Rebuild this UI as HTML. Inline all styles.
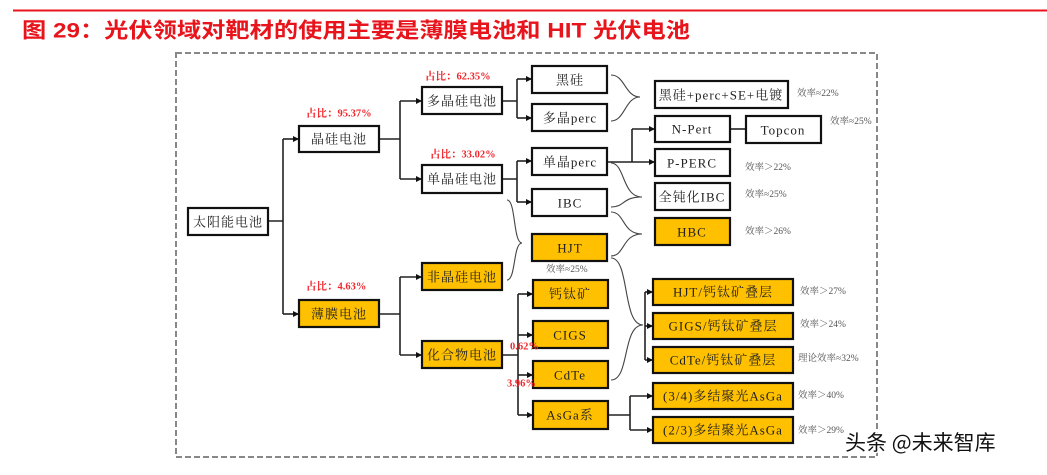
<!DOCTYPE html>
<html><head><meta charset="utf-8"><style>
html,body{margin:0;padding:0;background:#fff;width:1047px;height:475px;overflow:hidden}
svg{display:block}
.t{font-family:"Liberation Serif","Noto Serif CJK SC",serif;font-size:13px;fill:#222;text-anchor:middle;dominant-baseline:central;letter-spacing:1px}
.s{font-family:"Liberation Serif","Noto Serif CJK SC",serif;font-size:9.5px;fill:#555;dominant-baseline:central}
.r{font-family:"Liberation Serif","Noto Serif CJK SC",serif;font-size:10.5px;fill:#f0282d;font-weight:bold;dominant-baseline:central}
.w{fill:#fff;stroke:#111;stroke-width:2.2}
.y{fill:#FFC000;stroke:#111;stroke-width:2.2}
.l{fill:none;stroke:#222;stroke-width:1.6}
.b{fill:none;stroke:#444;stroke-width:1.1}
</style></head><body>
<svg width="1047" height="475" viewBox="0 0 1047 475" xmlns="http://www.w3.org/2000/svg">
<defs><marker id="a" markerWidth="6" markerHeight="6" refX="5" refY="3" orient="auto" markerUnits="userSpaceOnUse"><path d="M0,0 L6,3 L0,6z" fill="#111"/></marker></defs>
<line x1="13" y1="10.5" x2="1047" y2="10.5" stroke="#e8141b" stroke-width="2"/>
<text x="22" y="31" font-family="Liberation Sans,'Noto Sans CJK SC',sans-serif" font-size="21" font-weight="bold" fill="#e8141b" dominant-baseline="central" textLength="668" lengthAdjust="spacingAndGlyphs">图 29：光伏领域对靶材的使用主要是薄膜电池和 HIT 光伏电池</text>
<rect x="176" y="53" width="701" height="404" fill="none" stroke="#888" stroke-width="2" stroke-dasharray="6,3"/>

<g class="l">
<path d="M268,221 H283 M283,139 V314"/>
<path d="M283,139 H298" marker-end="url(#a)"/><path d="M283,314 H298" marker-end="url(#a)"/>
<path d="M379,139 H400 M400,101 V179"/>
<path d="M400,101 H421" marker-end="url(#a)"/><path d="M400,179 H421" marker-end="url(#a)"/>
<path d="M502,101 H517 M517,79 V118"/>
<path d="M517,79 H531" marker-end="url(#a)"/><path d="M517,118 H531" marker-end="url(#a)"/>
<path d="M502,179 H517 M517,161 V202"/>
<path d="M517,161 H531" marker-end="url(#a)"/><path d="M517,202 H531" marker-end="url(#a)"/>
<path d="M379,314 H400 M400,277 V355"/>
<path d="M400,277 H421" marker-end="url(#a)"/><path d="M400,355 H421" marker-end="url(#a)"/>
<path d="M502,355 H518 M518,294 V415"/>
<path d="M518,294 H532" marker-end="url(#a)"/><path d="M518,335 H532" marker-end="url(#a)"/>
<path d="M518,375 H532" marker-end="url(#a)"/><path d="M518,415 H532" marker-end="url(#a)"/>
<path d="M607,162 H632 M632,129 V162"/>
<path d="M632,129 H654" marker-end="url(#a)"/><path d="M632,162 H654" marker-end="url(#a)"/>
<path d="M730,129 H746"/>
<path d="M645,292 V360"/>
<path d="M645,292 H652" marker-end="url(#a)"/><path d="M645,326 H652" marker-end="url(#a)"/><path d="M645,360 H652" marker-end="url(#a)"/>
<path d="M608,415 H630 M630,396 V430"/>
<path d="M630,396 H652" marker-end="url(#a)"/><path d="M630,430 H652" marker-end="url(#a)"/>
</g>

<g class="b">
<path d="M611,75 C625,75 625,97 640,97 C625,97 625,121 611,121"/>
<path d="M611,163 C625,163 622,197 642,197 C622,197 625,207 611,207"/>
<path d="M611,212 C625,212 622,234 642,234 C622,234 625,256 611,256"/>
<path d="M507,200 C516,200 513,243 522,243 C513,243 516,280 507,280"/>
<path d="M611,258 C630,258 622,325 643,325 C622,325 630,380 611,380"/>
</g>

<rect class="w" x="188" y="208" width="80" height="27"/><text class="t" x="228" y="222">太阳能电池</text>
<rect class="w" x="299" y="126" width="80" height="26"/><text class="t" x="339" y="139">晶硅电池</text>
<rect class="w" x="422" y="87" width="80" height="27"/><text class="t" x="462" y="101">多晶硅电池</text>
<rect class="w" x="422" y="165" width="80" height="28"/><text class="t" x="462" y="179">单晶硅电池</text>
<rect class="w" x="532" y="66" width="75" height="27"/><text class="t" x="570" y="80">黑硅</text>
<rect class="w" x="532" y="104" width="75" height="27"/><text class="t" x="570" y="118">多晶perc</text>
<rect class="w" x="532" y="148" width="75" height="27"/><text class="t" x="570" y="162">单晶perc</text>
<rect class="w" x="532" y="189" width="75" height="27"/><text class="t" x="570" y="203">IBC</text>
<rect class="y" x="532" y="234" width="75" height="27"/><text class="t" x="570" y="248">HJT</text>
<rect class="y" x="422" y="263" width="80" height="27"/><text class="t" x="462" y="277">非晶硅电池</text>
<rect class="y" x="299" y="300" width="80" height="27"/><text class="t" x="339" y="314">薄膜电池</text>
<rect class="y" x="422" y="341" width="80" height="27"/><text class="t" x="462" y="355">化合物电池</text>
<rect class="y" x="533" y="280" width="75" height="28"/><text class="t" x="570" y="294">钙钛矿</text>
<rect class="y" x="533" y="321" width="75" height="27"/><text class="t" x="570" y="335">CIGS</text>
<rect class="y" x="533" y="361" width="75" height="27"/><text class="t" x="570" y="375">CdTe</text>
<rect class="y" x="533" y="401" width="75" height="28"/><text class="t" x="570" y="415">AsGa系</text>

<rect class="w" x="655" y="81" width="133" height="27"/><text class="t" x="721" y="95">黑硅+perc+SE+电镀</text>
<rect class="w" x="655" y="116" width="75" height="26"/><text class="t" x="692" y="129">N-Pert</text>
<rect class="w" x="746" y="116" width="75" height="27"/><text class="t" x="783" y="130">Topcon</text>
<rect class="w" x="655" y="149" width="75" height="27"/><text class="t" x="692" y="163">P-PERC</text>
<rect class="w" x="655" y="183" width="75" height="27"/><text class="t" x="692" y="197">全钝化IBC</text>
<rect class="y" x="655" y="218" width="75" height="27"/><text class="t" x="692" y="232">HBC</text>

<rect class="y" x="653" y="279" width="140" height="26"/><text class="t" x="723" y="292">HJT/钙钛矿叠层</text>
<rect class="y" x="653" y="313" width="140" height="26"/><text class="t" x="723" y="326">GIGS/钙钛矿叠层</text>
<rect class="y" x="653" y="347" width="140" height="26"/><text class="t" x="723" y="360">CdTe/钙钛矿叠层</text>
<rect class="y" x="653" y="383" width="140" height="26"/><text class="t" x="723" y="396">(3/4)多结聚光AsGa</text>
<rect class="y" x="653" y="417" width="140" height="26"/><text class="t" x="723" y="430">(2/3)多结聚光AsGa</text>

<text class="r" x="425" y="77">占比：62.35%</text>
<text class="r" x="306" y="114">占比：95.37%</text>
<text class="r" x="430" y="155">占比：33.02%</text>
<text class="r" x="306" y="287">占比：4.63%</text>
<text class="r" x="510" y="347">0.62%</text>
<text class="r" x="507" y="384">3.96%</text>
<text class="s" x="797" y="94">效率≈22%</text>
<text class="s" x="830" y="122">效率≈25%</text>
<text class="s" x="745" y="168">效率＞22%</text>
<text class="s" x="745" y="195">效率≈25%</text>
<text class="s" x="745" y="232">效率＞26%</text>
<text class="s" x="546" y="270">效率≈25%</text>
<text class="s" x="800" y="292">效率＞27%</text>
<text class="s" x="800" y="325">效率＞24%</text>
<text class="s" x="798" y="359">理论效率≈32%</text>
<text class="s" x="798" y="396">效率＞40%</text>
<text class="s" x="798" y="431">效率＞29%</text>

<text x="845" y="442" font-family="'Noto Sans CJK SC',sans-serif" font-size="21" fill="#111" stroke="#fff" stroke-width="3" paint-order="stroke" dominant-baseline="central">头条 @未来智库</text>
</svg>
</body></html>
